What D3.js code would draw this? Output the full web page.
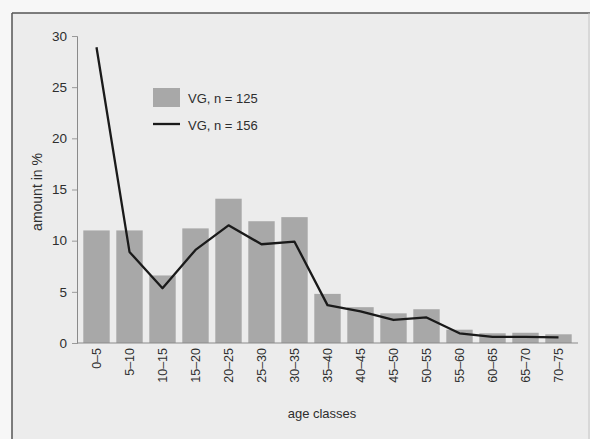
<!DOCTYPE html>
<html>
<head>
<meta charset="utf-8">
<script src="https://cdn.jsdelivr.net/npm/d3@7"></script>
<style>
  body { margin: 0; background: #f7f7f7; }
  svg { display: block; font-family: "Liberation Sans", Arial, sans-serif; }
</style>
</head>
<body>
<div id="chart"></div>
<script>
const ageClasses = ["0–5", "5–10", "10–15", "15–20", "20–25", "25–30", "30–35", "35–40",
  "40–45", "45–50", "50–55", "55–60", "60–65", "65–70", "70–75"];
const barValues = [11.0, 11.0, 6.6, 11.2, 14.1, 11.9, 12.3, 4.8, 3.5, 2.9, 3.3, 1.3, 0.95, 1.0, 0.85];
const lineValues = [28.9, 8.9, 5.35, 9.1, 11.5, 9.65, 9.9, 3.7, 3.1, 2.25, 2.5, 0.95, 0.6, 0.6, 0.55];
const yTicks = [0, 5, 10, 15, 20, 25, 30];
const legendLabels = ["VG, n = 125", "VG, n = 156"];

const width = 590, height = 439;
const svg = d3.select("#chart").append("svg")
  .attr("width", width)
  .attr("height", height);

// scanned page frame
svg.append("rect").attr("x", 12).attr("y", 13).attr("width", 578).attr("height", 426)
  .attr("fill", "#ececec");
svg.append("line").attr("x1", 12).attr("x2", 590).attr("y1", 13).attr("y2", 13)
  .attr("stroke", "#555").attr("stroke-width", 1.5);
svg.append("line").attr("x1", 12).attr("x2", 12).attr("y1", 13).attr("y2", 439)
  .attr("stroke", "#555").attr("stroke-width", 1.5);
svg.append("line").attr("x1", 589).attr("x2", 589).attr("y1", 13).attr("y2", 439)
  .attr("stroke", "#c4c4c4").attr("stroke-width", 1);

const x = d3.scaleBand().domain(ageClasses).range([80, 575]).paddingInner(0.2).paddingOuter(0.1);
const y = d3.scaleLinear().domain([0, 30]).range([343, 36]);

const g = svg.append("g");

g.selectAll("rect.bar")
  .data(barValues)
  .enter().append("rect")
  .attr("class", "bar")
  .attr("x", (d, i) => x(ageClasses[i]))
  .attr("y", d => y(d))
  .attr("width", x.bandwidth())
  .attr("height", d => y(0) - y(d))
  .attr("fill", "#a8a8a8");

// y axis
const yAxis = g.append("g").attr("transform", "translate(77,0)")
  .call(d3.axisLeft(y).tickValues(yTicks).tickSize(5).tickPadding(5));
yAxis.select(".domain").attr("stroke", "#8a8a8a");
yAxis.selectAll(".tick line").attr("stroke", "#9a9a9a");
yAxis.selectAll("text").attr("fill", "#2e2e2e").attr("font-size", 13.5);

// x axis
const xAxis = g.append("g").attr("transform", "translate(0,343)")
  .call(d3.axisBottom(x).tickSize(0).tickPadding(6));
xAxis.select(".domain").attr("d", "M77,0H578").attr("stroke", "#8a8a8a");
xAxis.selectAll("text")
  .attr("fill", "#2e2e2e").attr("font-size", 12.5)
  .attr("transform", "rotate(-90)")
  .attr("text-anchor", "end")
  .attr("x", -5).attr("y", 0).attr("dy", "0.35em");

// line
g.append("path")
  .datum(lineValues)
  .attr("fill", "none")
  .attr("stroke", "#1a1a1a")
  .attr("stroke-width", 2.3)
  .attr("stroke-linejoin", "round")
  .attr("d", d3.line()
    .x((d, i) => x(ageClasses[i]) + x.bandwidth() / 2)
    .y(d => y(d)));

// axis titles
svg.append("text")
  .attr("transform", "translate(37,192) rotate(-90)")
  .attr("text-anchor", "middle")
  .attr("dy", "0.35em")
  .attr("font-size", 14).attr("fill", "#2e2e2e")
  .text("amount in %");
svg.append("text")
  .attr("x", 322).attr("y", 418)
  .attr("text-anchor", "middle")
  .attr("font-size", 13).attr("fill", "#2e2e2e")
  .text("age classes");

// legend
const lg = svg.append("g").attr("transform", "translate(153,88)");
lg.append("rect").attr("width", 27).attr("height", 19).attr("fill", "#a8a8a8");
lg.append("line").attr("x1", 0).attr("x2", 27).attr("y1", 36).attr("y2", 36)
  .attr("stroke", "#1a1a1a").attr("stroke-width", 2.3);
lg.selectAll("text.lab")
  .data(legendLabels)
  .enter().append("text")
  .attr("class", "lab")
  .attr("x", 35)
  .attr("y", (d, i) => 10 + i * 27)
  .attr("dy", "0.35em")
  .attr("font-size", 13).attr("fill", "#2e2e2e")
  .text(d => d);
</script>
</body>
</html>
